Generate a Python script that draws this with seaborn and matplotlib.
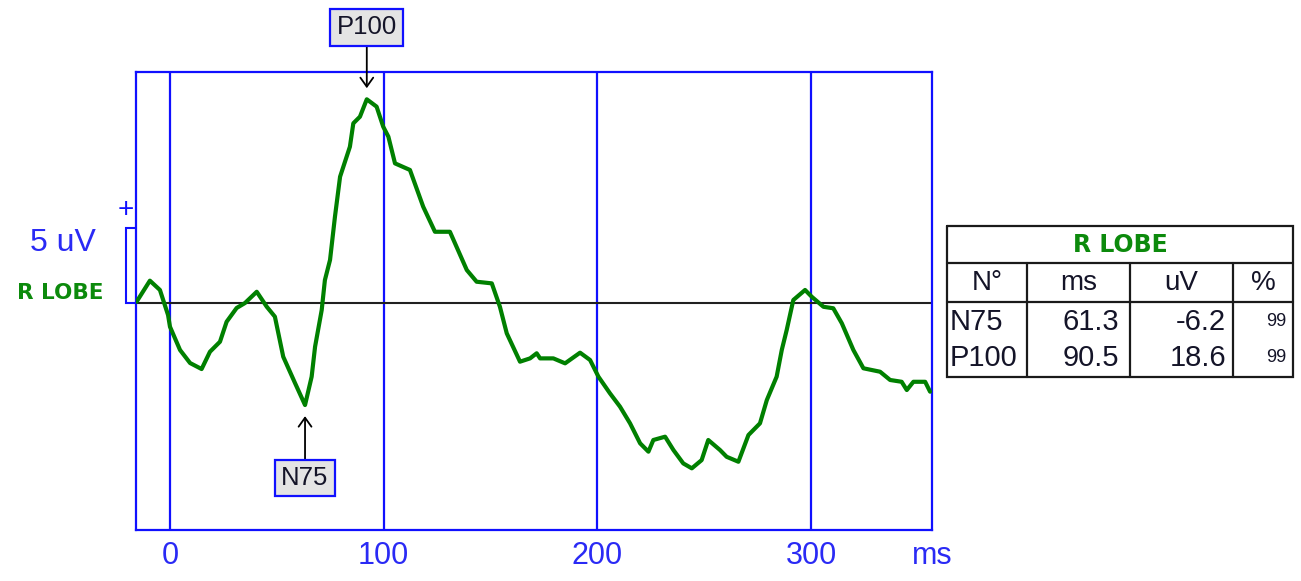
import numpy as np
import pandas as pd
import matplotlib
matplotlib.use("Agg")
import matplotlib.pyplot as plt
import matplotlib.transforms as mtransforms
import seaborn as sns

# ---------------- data ----------------
time_ms = [-15.6, -9.4, -4.7, -0.9, 0.0, 4.7, 9.4, 14.8, 18.7, 23.4, 26.5, 31.2, 35.1,
           40.6, 45.3, 49.1, 53.0, 58.5, 63.2, 66.3, 67.9, 71.0, 72.5, 74.9, 77.2, 79.6,
           84.2, 85.8, 88.9, 92.1, 96.7, 99.8, 102.2, 105.3, 112.3, 118.5, 124.0, 131.0,
           138.9, 143.5, 150.6, 154.4, 157.6, 163.8, 168.5, 171.6, 173.2, 179.4, 184.9,
           191.9, 196.6, 200.5, 205.9, 210.6, 215.3, 220.0, 223.9, 226.2, 231.7, 235.6,
           240.2, 244.2, 248.8, 251.9, 257.4, 260.5, 266.0, 270.7, 276.1, 279.3, 283.9,
           286.3, 288.6, 291.7, 297.2, 300.3, 305.8, 310.4, 314.4, 319.8, 324.5, 332.3,
           337.0, 342.4, 344.8, 347.9, 353.4, 355.7]
amplitude_uv = [0.09, 1.49, 0.87, -0.80, -1.58, -3.13, -4.00, -4.40, -3.25, -2.58, -1.25,
                -0.33, 0.00, 0.75, -0.25, -0.91, -3.58, -5.33, -6.80, -4.91, -2.91, -0.47,
                1.53, 2.87, 5.75, 8.42, 10.42, 11.98, 12.42, 13.58, 13.09, 11.75, 11.09,
                9.31, 8.87, 6.42, 4.75, 4.75, 2.20, 1.42, 1.31, -0.25, -2.02, -3.91, -3.69,
                -3.35, -3.69, -3.69, -4.02, -3.31, -3.80, -4.91, -6.02, -6.91, -8.02, -9.35,
                -9.91, -9.13, -8.91, -9.80, -10.69, -11.02, -10.47, -9.13, -9.80, -10.25,
                -10.58, -8.80, -8.02, -6.47, -4.91, -3.13, -1.80, 0.20, 0.87, 0.42, -0.25,
                -0.35, -1.35, -3.13, -4.35, -4.58, -5.13, -5.25, -5.80, -5.25, -5.25, -5.91]

x_ticks = [0, 100, 200, 300]
x_tick_labels = ["0", "100", "200", "300"]
x_unit = "ms"
scale_bar_uv = 5
scale_label = "5 uV"
channel = "R LOBE"

peak_names = ["N75", "P100"]
peak_windows = [(40, 80), (80, 110)]
peak_ms = ["61.3", "90.5"]
peak_uv = ["-6.2", "18.6"]
peak_pct = ["99", "99"]
table_headers = ["N°", "ms", "uV", "%"]

# ---------------- style ----------------
sns.set_theme(style="white")
plt.rcParams["font.family"] = ["Liberation Sans", "DejaVu Sans"]

BLUE = "#1010ff"
TXT_BLUE = "#2a2af5"
GREEN = "#008000"
TXT_GREEN = "#0c8a0c"
DARK = "#141428"

W, H = 1301, 581
fig = plt.figure(figsize=(W / 100, H / 100), dpi=100)
fig.patch.set_facecolor("white")

L, R, T, B = 136, 932, 72, 530
ax = fig.add_axes([L / W, 1 - B / H, (R - L) / W, (B - T) / H])
xmin, xmax = -15.9, 356.6
ymin, ymax = -15.13, 15.4

df = pd.DataFrame({"time": time_ms, "amp": amplitude_uv})

for xv in x_ticks:
    ax.axvline(xv, color=BLUE, lw=1.6, zorder=1)
ax.axhline(0, color="#202020", lw=1.5, zorder=2)

sns.lineplot(data=df, x="time", y="amp", ax=ax, color=GREEN, lw=3.0,
             estimator=None, sort=False, zorder=3)

ax.set_xlim(xmin, xmax)
ax.set_ylim(ymin, ymax)
ax.set_xticks(x_ticks + [xmax])
ax.set_xticklabels(x_tick_labels + [x_unit])
ax.set_yticks([])
ax.tick_params(axis="x", length=0, pad=8, labelsize=22, labelcolor=TXT_BLUE)
ax.set_xlabel("")
ax.set_ylabel("")
for s in ax.spines.values():
    s.set_visible(True)
    s.set_color(BLUE)
    s.set_linewidth(1.6)

# scale bar on the left
blend = mtransforms.blended_transform_factory(ax.transAxes, ax.transData)
bx0 = -10 / (R - L)
ax.plot([0, bx0, bx0, 0], [scale_bar_uv, scale_bar_uv, 0, 0], color=BLUE, lw=1.5,
        transform=blend, clip_on=False, solid_joinstyle="miter")
ax.text(bx0, scale_bar_uv + 1.2, "+", transform=blend, color=BLUE, fontsize=20,
        ha="center", va="center")
ax.text(-73.5 / (R - L), scale_bar_uv - 0.97, scale_label, transform=blend,
        color=TXT_BLUE, fontsize=23, ha="center", va="center")
ax.text(-75.5 / (R - L), 0.7, channel, transform=blend, color=TXT_GREEN,
        fontsize=15.5, fontweight="bold", family="DejaVu Sans",
        ha="center", va="center")

# peak annotations
t_arr = np.array(time_ms)
a_arr = np.array(amplitude_uv)
for name, (lo, hi) in zip(peak_names, peak_windows):
    mask = (t_arr >= lo) & (t_arr <= hi)
    idx = np.where(mask)[0]
    if name.startswith("P"):
        i = idx[np.argmax(a_arr[idx])]
        off = 72
    else:
        i = idx[np.argmin(a_arr[idx])]
        off = -73
    ax.annotate(name, xy=(t_arr[i], a_arr[i]), xytext=(0, off),
                textcoords="offset pixels", ha="center", va="center",
                fontsize=18.5, color=DARK, annotation_clip=False,
                bbox=dict(boxstyle="square,pad=0.25", fc="#e4e4e4", ec=BLUE, lw=1.6),
                arrowprops=dict(arrowstyle="->,head_length=0.35,head_width=0.25",
                                color="black", lw=1.3, shrinkA=0, shrinkB=8),
                zorder=5)

# ---------------- table ----------------
ov = fig.add_axes([0, 0, 1, 1])
ov.set_xlim(0, W)
ov.set_ylim(H, 0)
ov.axis("off")
ov.patch.set_alpha(0)

tx0, tx1 = 947, 1293
ty = [226, 263, 302, 377]
cols = [947, 1027, 1130, 1233, 1293]
lc = "#1a1a1a"
lw = 1.6
ov.plot([tx0, tx1, tx1, tx0, tx0], [ty[0], ty[0], ty[3], ty[3], ty[0]], color=lc, lw=lw,
        solid_joinstyle="miter")
for yy in ty[1:3]:
    ov.plot([tx0, tx1], [yy, yy], color=lc, lw=lw)
for xx in cols[1:4]:
    ov.plot([xx, xx], [ty[1], ty[3]], color=lc, lw=lw)

ov.text((tx0 + tx1) / 2, 245, channel, color=TXT_GREEN, fontsize=17, fontweight="bold",
        family="DejaVu Sans", ha="center", va="center")
for j, h in enumerate(table_headers):
    ov.text((cols[j] + cols[j + 1]) / 2, 283, h, fontsize=20, color=DARK,
            ha="center", va="center")
row_y = [322, 358]
for r in range(len(peak_names)):
    y = row_y[r]
    ov.text(950, y, peak_names[r], fontsize=21, color=DARK, ha="left", va="center")
    ov.text(1119, y, peak_ms[r], fontsize=21, color=DARK, ha="right", va="center")
    ov.text(1226, y, peak_uv[r], fontsize=21, color=DARK, ha="right", va="center")
    ov.text(1286, y, peak_pct[r], fontsize=13, color=DARK, ha="right", va="center")

fig.savefig("out.png", dpi=100, facecolor="white")
